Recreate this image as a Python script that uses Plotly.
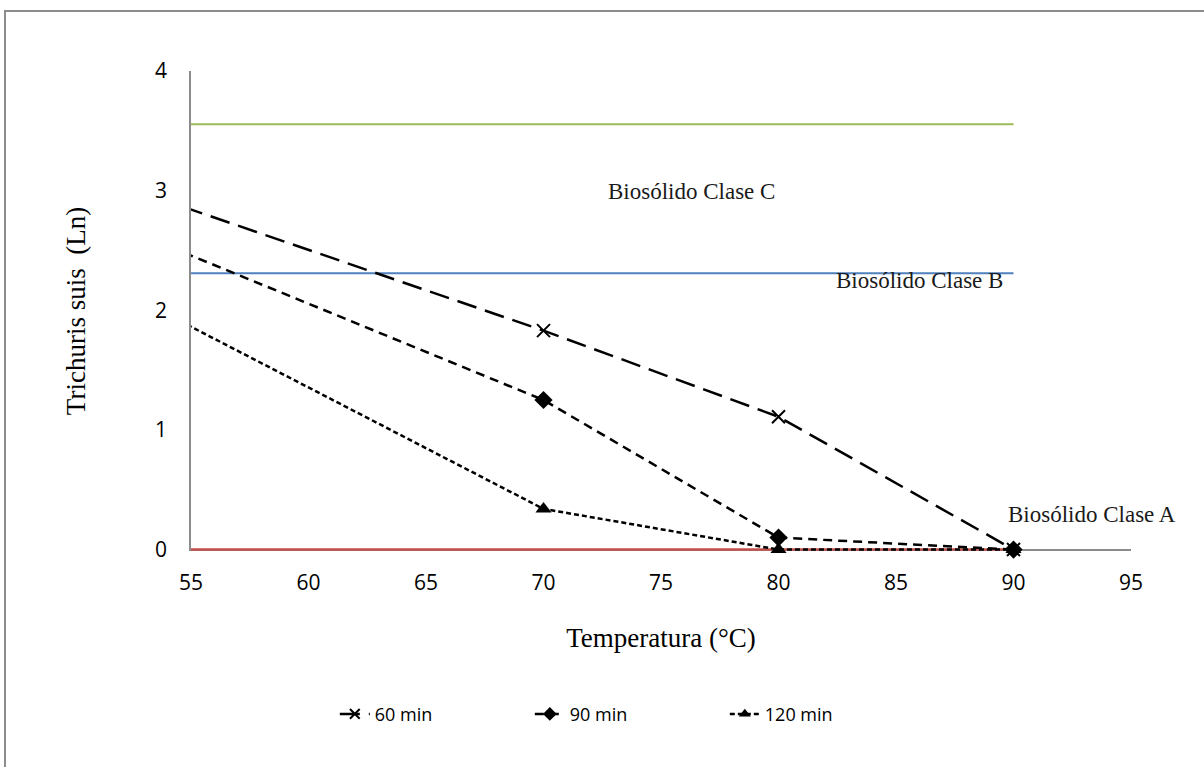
import plotly.graph_objects as go

# Data
temps = [50, 70, 80, 90]
t60 = [3.18, 1.83, 1.11, 0.0]
t90 = [2.86, 1.25, 0.10, 0.0]
t120 = [2.37, 0.34, 0.0, 0.0]

limit_x = [55, 90]
clase_c = 3.555
clase_b = 2.31
clase_a = 0.0

x_ticks = [55, 60, 65, 70, 75, 80, 85, 90, 95]
y_ticks = [0, 1, 2, 3, 4]

# first point lies left of the visible range: hide its marker
msize = [0, 14, 14, 14]

fig = go.Figure()

fig.add_trace(go.Scatter(x=limit_x, y=[clase_c, clase_c], mode="lines",
                         line=dict(color="#9BBB59", width=2), showlegend=False, hoverinfo="skip"))
fig.add_trace(go.Scatter(x=limit_x, y=[clase_b, clase_b], mode="lines",
                         line=dict(color="#4F81BD", width=2), showlegend=False, hoverinfo="skip"))
fig.add_trace(go.Scatter(x=limit_x, y=[clase_a, clase_a], mode="lines",
                         line=dict(color="#C0504D", width=2.5), showlegend=False, hoverinfo="skip"))

fig.add_trace(go.Scatter(x=temps, y=t60, mode="lines+markers", name="60 min", cliponaxis=False,
                         line=dict(color="black", width=2.5, dash="20px,9px"),
                         marker=dict(symbol="x-thin", size=[0, 13, 13, 13], opacity=1,
                                     color="black", line=dict(color="black", width=2))))
fig.add_trace(go.Scatter(x=temps, y=t90, mode="lines+markers", name="90 min", cliponaxis=False,
                         line=dict(color="black", width=2.5, dash="9px,6px"),
                         marker=dict(symbol="diamond", size=msize, color="black", opacity=1,
                                     line=dict(width=0))))
fig.add_trace(go.Scatter(x=temps, y=t120, mode="lines+markers", name="120 min", cliponaxis=False,
                         line=dict(color="black", width=2.5, dash="5px,3px"),
                         marker=dict(symbol="triangle-up", size=msize, color="black", opacity=1,
                                     line=dict(width=0))))

serif = "Liberation Serif"
sans = "Open Sans"

ann_font = dict(family=serif, size=23, color="#1a1a1a")
fig.add_annotation(x=76.3, y=2.99, text="Biosólido Clase C", showarrow=False, font=ann_font)
fig.add_annotation(x=86.0, y=2.246, text="Biosólido Clase B", showarrow=False, font=ann_font)
fig.add_annotation(x=93.34, y=0.29, text="Biosólido Clase A", showarrow=False, font=ann_font)

# outer border (clipped by page edge on right/bottom)
fig.add_shape(type="rect", xref="paper", yref="paper",
              x0=(5 - 191) / 940, x1=1.2, y0=-0.7, y1=(550 - 10) / 480,
              line=dict(color="#8C8C8C", width=2), fillcolor="rgba(0,0,0,0)", layer="below")

fig.update_layout(
    width=1204, height=767,
    margin=dict(l=191, r=73, t=71, b=216),
    paper_bgcolor="white", plot_bgcolor="white",
    font=dict(family=sans, size=17, color="black"),
    legend=dict(orientation="h", x=0.153, xanchor="left", y=-0.34, yanchor="middle",
                font=dict(family=sans, size=18), entrywidth=150),
    xaxis=dict(range=[55, 95], tickvals=x_ticks, showgrid=False, zeroline=False,
               showline=False, ticks="",
               tickfont=dict(family=sans, size=21), ticklabelstandoff=17,
               title=dict(text="Temperatura (°C)", font=dict(family=serif, size=27), standoff=33)),
    yaxis=dict(range=[-0.012, 4], tickvals=y_ticks, showgrid=False,
               zeroline=True, zerolinecolor="#8C8C8C", zerolinewidth=1.5,
               showline=True, linecolor="#8C8C8C", linewidth=1.5, ticks="", layer="below traces",
               tickfont=dict(family=sans, size=21), ticklabelstandoff=18,
               title=dict(text="Trichuris suis  (Ln)", font=dict(family=serif, size=27), standoff=62)),
)

fig.write_html("out.html")
